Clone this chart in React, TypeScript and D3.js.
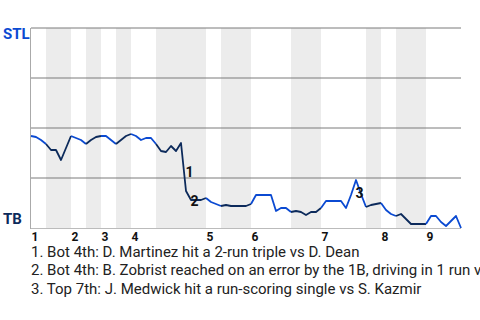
import React from "react";
import * as d3 from "d3";

// TB (home) win probability, % — one value per game event
const tbWinProb: number[] = [
  54, 54.5, 56, 58, 61, 61, 66, 60, 54, 55,
  56, 58, 56, 54.5, 54, 54, 56, 58, 56, 54,
  53, 54, 56, 55, 55, 58, 61.5, 62, 59, 61.5,
  57.5, 81.5, 86, 86, 86, 85, 87, 88, 89, 88.5,
  89, 89, 89, 89, 88, 83.5, 83.5, 83.5, 83.5, 91.5,
  90, 90, 92, 91.5, 92, 93.5, 92, 92, 90, 86.5,
  86.5, 86.5, 86.5, 90, 83.5, 76, 83, 89.5, 88.5, 88,
  87.5, 91, 93, 94, 93, 95.5, 98, 98, 98, 98,
  94, 94, 97, 99, 96.5, 94, 100,
];

// event index where each half-inning starts (T1, B1, T2, B2, ...), last = end
const halfInningStarts: number[] = [0, 3, 8, 11, 14, 17, 20, 25, 35, 38, 44, 52, 58, 67, 70, 73, 79, 86];
const inningLabels: string[] = ["1", "2", "3", "4", "5", "6", "7", "8", "9"];
const gridValues: number[] = [0, 25, 50, 75];

// annotated events: index of the event's end point
const markerEvents: number[] = [31, 32, 65];
const markerNotes: string[] = [
  "1. Bot 4th: D. Martinez hit a 2-run triple vs D. Dean",
  "2. Bot 4th: B. Zobrist reached on an error by the 1B, driving in 1 run vs D. Dean",
  "3. Top 7th: J. Medwick hit a run-scoring single vs S. Kazmir",
];

const awayTeam = "STL";
const homeTeam = "TB";

const W = 480;
const H = 320;
const left = 31;
const right = 461;
const top = 28;
const bottom = 228;

const STL_BLUE = "#0b4ad2";
const TB_NAVY = "#0c2a5b";
const FONT = "Roboto, 'Noto Sans', sans-serif";

export default function App() {
  const n = tbWinProb.length - 1;
  const x = d3.scaleLinear().domain([0, n]).range([left, right]);
  const y = d3.scaleLinear().domain([0, 100]).range([top, bottom]);

  const halves: { start: number; end: number; top: boolean }[] = [];
  for (let k = 0; k < halfInningStarts.length - 1; k++) {
    halves.push({ start: halfInningStarts[k], end: halfInningStarts[k + 1], top: k % 2 === 0 });
  }

  const segPath = (s: number, e: number) => {
    const idx = d3.range(s, e + 1);
    return d3
      .line<number>()
      .x((i) => x(i))
      .y((i) => y(tbWinProb[i]))(idx) as string;
  };

  return (
    <svg width={W} height={H} style={{ position: "absolute", left: 0, top: 0 }}>
      <rect x={0} y={0} width={W} height={H} fill="#fff" />
      {halves
        .filter((h) => !h.top)
        .map((h, k) => (
          <rect
            key={"b" + k}
            x={x(h.start)}
            y={top}
            width={x(h.end) - x(h.start)}
            height={bottom - top}
            fill="#ececec"
          />
        ))}
      {gridValues.map((g) => (
        <line key={g} x1={left} x2={right} y1={y(g)} y2={y(g)} stroke="#7a7a7a" strokeWidth={1} />
      ))}
      <line x1={left - 0.5} x2={left - 0.5} y1={top} y2={bottom + 1} stroke="#aaa" strokeWidth={1} />
      <line x1={left} x2={right} y1={bottom + 0.5} y2={bottom + 0.5} stroke="#bbb" strokeWidth={1} />

      {halves.map((h, k) => (
        <path
          key={"p" + k}
          d={segPath(h.start, h.end)}
          fill="none"
          stroke={h.top ? STL_BLUE : TB_NAVY}
          strokeWidth={1.8}
          strokeLinejoin="round"
        />
      ))}

      {markerEvents.map((ev, k) => {
        const mx = (x(ev - 1) + x(ev)) / 2;
        const my = (y(tbWinProb[ev - 1]) + y(tbWinProb[ev])) / 2;
        return (
          <text key={"m" + k} x={mx + 2} y={my + 10} fontFamily={FONT} fontWeight="bold" fontSize={14} fill="#111">
            {k + 1}
          </text>
        );
      })}

      <text x={3} y={39} fontFamily={FONT} fontWeight="bold" fontSize={15} fill={STL_BLUE}>
        {awayTeam}
      </text>
      <text x={3} y={224} fontFamily={FONT} fontWeight="bold" fontSize={15} fill={TB_NAVY}>
        {homeTeam}
      </text>

      {inningLabels.map((lab, k) => (
        <text
          key={"t" + k}
          x={x(halfInningStarts[k * 2]) + 4}
          y={241}
          textAnchor="middle"
          fontFamily={FONT}
          fontWeight="bold"
          fontSize={12}
          fill="#111"
        >
          {lab}
        </text>
      ))}

      {markerNotes.map((t, k) => (
        <text key={"n" + k} x={31} y={257 + k * 18.3} fontFamily={FONT} fontSize={15} fill="#222">
          {t}
        </text>
      ))}
    </svg>
  );
}
